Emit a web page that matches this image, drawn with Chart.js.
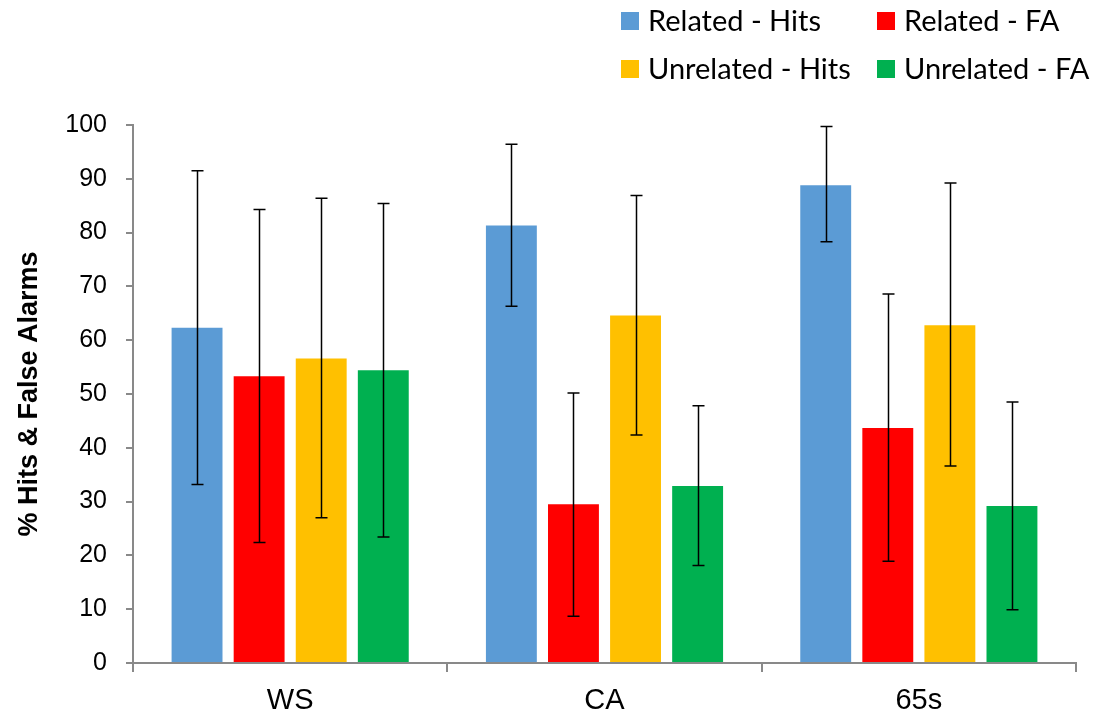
<!DOCTYPE html>
<html>
<head>
<meta charset="utf-8">
<script src="https://cdn.jsdelivr.net/npm/chart.js@4.4.1/dist/chart.umd.min.js"></script>
<style>
  html, body { margin: 0; padding: 0; background: #ffffff; }
  #wrap { position: relative; width: 1099px; height: 717px; }
</style>
</head>
<body>
<div id="wrap"><canvas id="chart" width="1099" height="717"></canvas></div>
<script>
// Groups along the x axis
const categories = ['WS', 'CA', '65s'];

// Mean percentages per condition
const relatedHits   = [62.3, 81.3, 88.8];
const relatedFA     = [53.3, 29.5, 43.7];
const unrelatedHits = [56.6, 64.6, 62.8];
const unrelatedFA   = [54.4, 32.9, 29.2];

// Error bar extents (upper / lower) per condition
const relatedHitsHigh   = [91.5, 96.4, 99.7];
const relatedHitsLow    = [33.2, 66.3, 78.3];
const relatedFAHigh     = [84.3, 50.2, 68.6];
const relatedFALow      = [22.4,  8.7, 18.9];
const unrelatedHitsHigh = [86.4, 86.9, 89.2];
const unrelatedHitsLow  = [27.0, 42.4, 36.6];
const unrelatedFAHigh   = [85.4, 47.8, 48.5];
const unrelatedFALow    = [23.4, 18.1,  9.9];

// Y axis tick values
const yTicks = [0, 10, 20, 30, 40, 50, 60, 70, 80, 90, 100];

const seriesNames = ['Related - Hits', 'Related - FA', 'Unrelated - Hits', 'Unrelated - FA'];
const seriesColors = ['#5B9BD5', '#FF0000', '#FFC000', '#00B050'];
const seriesValues = [relatedHits, relatedFA, unrelatedHits, unrelatedFA];
const seriesHigh = [relatedHitsHigh, relatedFAHigh, unrelatedHitsHigh, unrelatedFAHigh];
const seriesLow = [relatedHitsLow, relatedFALow, unrelatedHitsLow, unrelatedFALow];

const axisGrey = '#898989';
const sansFont = '"Liberation Sans", Arial, sans-serif';

// Draws whiskers with caps for each bar
const errorBars = {
  id: 'errorBars',
  afterDatasetsDraw(chart) {
    const ctx = chart.ctx;
    const y = chart.scales.y;
    ctx.save();
    ctx.strokeStyle = '#000000';
    ctx.lineWidth = 1.5;
    chart.data.datasets.forEach((ds, i) => {
      const meta = chart.getDatasetMeta(i);
      meta.data.forEach((bar, j) => {
        const x = Math.round(bar.x) + 0.5;
        const top = y.getPixelForValue(ds.errHigh[j]);
        const bot = y.getPixelForValue(ds.errLow[j]);
        const cap = 6;
        ctx.beginPath();
        ctx.moveTo(x, top); ctx.lineTo(x, bot);
        ctx.moveTo(x - cap, top); ctx.lineTo(x + cap, top);
        ctx.moveTo(x - cap, bot); ctx.lineTo(x + cap, bot);
        ctx.stroke();
      });
    });
    ctx.restore();
  }
};

// Two-by-two legend in the upper right corner
const gridLegend = {
  id: 'gridLegend',
  afterDraw(chart) {
    const ctx = chart.ctx;
    const cols = [621, 877];
    const rows = [21, 69];
    ctx.save();
    ctx.font = '29px Lato, "Open Sans", sans-serif';
    ctx.textBaseline = 'middle';
    ctx.textAlign = 'left';
    chart.data.datasets.forEach((ds, i) => {
      const cx = cols[i % 2];
      const cy = rows[Math.floor(i / 2)];
      ctx.fillStyle = ds.backgroundColor;
      ctx.fillRect(cx, cy - 9, 18, 18);
      ctx.fillStyle = '#000000';
      ctx.fillText(ds.label, cx + 27, cy + 1);
    });
    ctx.restore();
  }
};

new Chart(document.getElementById('chart'), {
  type: 'bar',
  data: {
    labels: categories,
    datasets: seriesNames.map((name, i) => ({
      label: name,
      data: seriesValues[i],
      errHigh: seriesHigh[i],
      errLow: seriesLow[i],
      backgroundColor: seriesColors[i],
      borderWidth: 0,
      categoryPercentage: 0.79,
      barPercentage: 0.82
    }))
  },
  options: {
    responsive: false,
    animation: false,
    devicePixelRatio: 1,
    layout: { padding: { top: 125, right: 23, left: 0, bottom: 0 } },
    plugins: {
      legend: { display: false },
      tooltip: { enabled: false }
    },
    scales: {
      x: {
        grid: {
          display: true,
          drawOnChartArea: false,
          drawTicks: true,
          tickLength: 9,
          color: axisGrey,
          lineWidth: 2,
          offset: true
        },
        border: { display: true, color: axisGrey, width: 2 },
        ticks: {
          color: '#000000',
          padding: 12,
          font: { family: sansFont, size: 29 }
        },
        afterFit(scale) { scale.height = 54; }
      },
      y: {
        min: 0,
        max: 100,
        afterBuildTicks(scale) { scale.ticks = yTicks.map(v => ({ value: v })); },
        grid: {
          display: true,
          drawOnChartArea: false,
          drawTicks: true,
          tickLength: 7,
          color: axisGrey,
          lineWidth: 2
        },
        border: { display: true, color: axisGrey, width: 2 },
        ticks: {
          color: '#000000',
          padding: 19,
          font: { family: sansFont, size: 25 }
        },
        title: {
          display: true,
          text: '% Hits & False Alarms',
          color: '#000000',
          padding: { top: 13, bottom: 0 },
          font: { family: sansFont, size: 27, weight: 'bold' }
        },
        afterFit(scale) { scale.width = 133; }
      }
    }
  },
  plugins: [errorBars, gridLegend]
});
</script>
</body>
</html>
